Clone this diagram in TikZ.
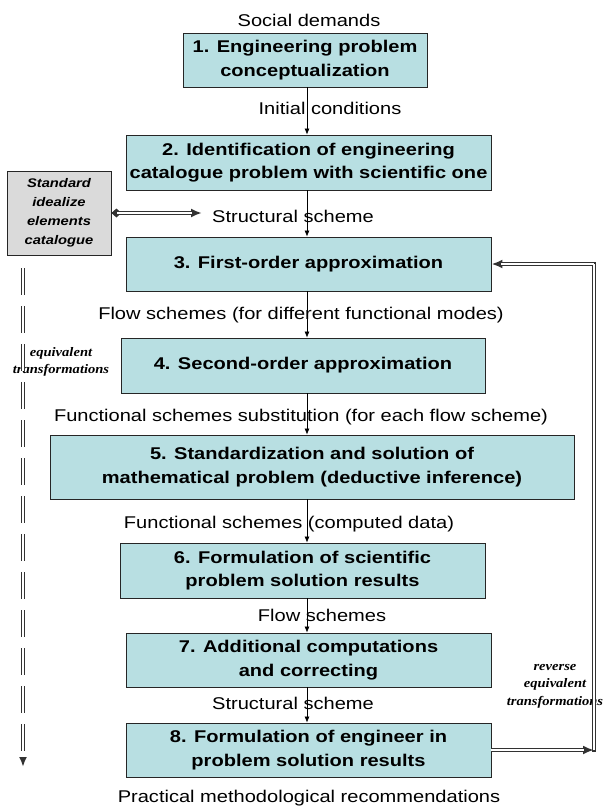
\documentclass[tikz,border=0pt]{standalone}
\usepackage{fontspec}
\setmainfont{Liberation Sans}[FakeStretch=1.18]
\newfontfamily\tnrfont{Liberation Serif}[FakeStretch=1.12]
\usetikzlibrary{arrows.meta}
\definecolor{boxfill}{RGB}{184,223,226}
\definecolor{stdfill}{RGB}{218,218,218}
\definecolor{dblc}{RGB}{50,50,50}
\tikzset{
  stepbox/.style={draw=black!85, line width=0.8pt, fill=boxfill, align=center,
    inner sep=0pt, font=\bfseries\fontsize{17}{23.5}\selectfont},
  stdbox/.style={draw=black!85, line width=0.8pt, fill=stdfill, align=center,
    inner sep=0pt, font=\bfseries\itshape\fontsize{12.5}{19}\selectfont},
  lbl/.style={font=\fontsize{17}{20}\selectfont, inner sep=0pt},
  tlbl/.style={font=\tnrfont\bfseries\itshape\fontsize{13}{17.5}\selectfont, align=center, inner sep=0pt},
  flowarr/.style={line width=0.7pt, -{Latex[length=6pt,width=5pt]}},
  dblo/.style={draw=dblc, line width=3.8pt},
  dbli/.style={draw=white, line width=1.4pt},
  bigtip/.style={-{Latex[length=11pt,width=9pt]}},
}
\begin{document}
\begin{tikzpicture}[x=1pt,y=-1pt]
\useasboundingbox (0,0) rectangle (607,809);
\coordinate (ax) at (307,0);
% labels
\node[lbl] (social) at (309,20) {Social demands};
\node[lbl] (init) at (330,108) {Initial conditions};
\node[lbl] (struct1) at (293,216) {Structural scheme};
\node[lbl] (flow1) at (301,315) {Flow schemes (for different functional modes)};
\node[lbl] (func1) at (301,417) {Functional schemes substitution (for each flow scheme)};
\node[lbl] (func2) at (289,524) {Functional schemes (computed data)};
\node[lbl] (flow2) at (322,615) {Flow schemes};
\node[lbl] (struct2) at (293,703) {Structural scheme};
\node[lbl] (pract) at (309,798) {Practical methodological recommendations};
% boxes
\node[stepbox, minimum width=244pt, minimum height=54pt] (b1) at (305,60) {1. Engineering problem\\conceptualization};
\node[stepbox, minimum width=365pt, minimum height=55pt] (b2) at (308.5,162.5) {2. Identification of engineering\\catalogue problem with scientific one};
\node[stepbox, minimum width=365pt, minimum height=54pt] (b3) at (308.5,264) {3. First-order approximation};
\node[stepbox, minimum width=364pt, minimum height=55pt] (b4) at (303,365.5) {4. Second-order approximation};
\node[stepbox, minimum width=524pt, minimum height=64pt] (b5) at (312,467) {5. Standardization and solution of\\mathematical problem (deductive inference)};
\node[stepbox, minimum width=365pt, minimum height=55pt] (b6) at (302.5,570.5) {6. Formulation of scientific\\problem solution results};
\node[stepbox, minimum width=365pt, minimum height=54pt] (b7) at (308.5,660) {7. Additional computations\\and correcting};
\node[stepbox, minimum width=365pt, minimum height=54pt] (b8) at (308.5,750) {8. Formulation of engineer in\\problem solution results};
\node[stdbox, minimum width=104pt, minimum height=84pt] (std) at (59,213) {Standard\\idealize\\elements\\catalogue};
% italic labels
\node[tlbl] (eqt) at (61,362) {equivalent\\transformations};
\node[tlbl] (reqt) at (555,686) {reverse\\equivalent\\transformations};
% main flow arrows
\draw[flowarr] (b1.south -| ax) -- (b2.north -| ax);
\draw[flowarr] (b2.south -| ax) -- (b3.north -| ax);
\draw[flowarr] (b3.south -| ax) -- (b4.north -| ax);
\draw[flowarr] (b4.south -| ax) -- (b5.north -| ax);
\draw[flowarr] (b5.south -| ax) -- (b6.north -| ax);
\draw[flowarr] (b6.south -| ax) -- (b7.north -| ax);
\draw[flowarr] (b7.south -| ax) -- (b8.north -| ax);
% catalogue arrow
\coordinate (sa) at (202,213);
\draw[dblo, {Diamond[length=10pt,width=9pt]}-{Latex[length=11pt,width=9pt]}] (std.east) -- (sa);
\draw[dbli, shorten <=6pt, shorten >=10pt] (std.east) -- (sa);
% feedback
\coordinate (r1) at (594,750);
\coordinate (r2) at (594,264);
\draw[dblo, line cap=rect] (r1) -- (r2);
\draw[dblo, bigtip] (b8.east) -- (r1);
\draw[dblo, bigtip] (r2) -- (b3.east);
\draw[dbli] (b8.east) -- ([xshift=-10pt]r1);
\draw[dbli] (r1) -- (r2);
\draw[dbli] (r2) -- ([xshift=10pt]b3.east);
% left dashed double line
\coordinate (d1) at (23,268);
\coordinate (d2) at (23,767);
\draw[dblo, dash pattern=on 27pt off 11pt, -{Latex[length=10pt,width=8pt]}] (d1) -- (d2);
\draw[dbli, dash pattern=on 27pt off 11pt, shorten >=9pt] (d1) -- (d2);
\end{tikzpicture}
\end{document}
